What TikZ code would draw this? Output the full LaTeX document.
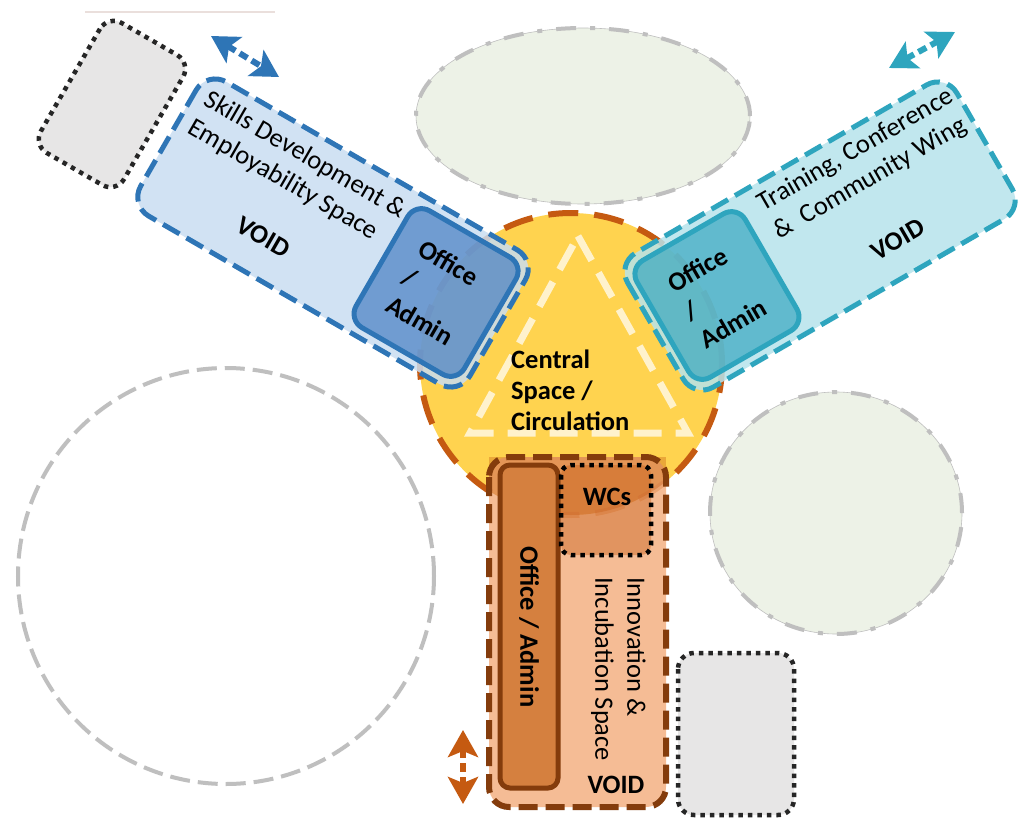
\documentclass[tikz,border=0pt]{standalone}
\usepackage{fontspec}
\setmainfont{Carlito}
\usetikzlibrary{arrows.meta}
\definecolor{bluedk}{HTML}{2E75B6}
\definecolor{bluelt}{HTML}{CADDF1}
\definecolor{bluemd}{HTML}{3C78C0}
\definecolor{tealdk}{HTML}{2EA5BE}
\definecolor{teallt}{HTML}{B7E3EC}
\definecolor{tealmd}{HTML}{2FA3BD}
\definecolor{orgdk}{HTML}{843C0C}
\definecolor{orgmd}{HTML}{C55A11}
\definecolor{orgoff}{HTML}{D5803F}
\definecolor{peach}{HTML}{F4B183}
\definecolor{sun}{HTML}{FFD34F}
\definecolor{cream}{HTML}{FFF2CC}
\definecolor{greyln}{HTML}{BFBFBF}
\definecolor{greenlt}{HTML}{EDF2E7}
\definecolor{greylt}{HTML}{E7E6E6}
\definecolor{dotblk}{HTML}{262626}
\definecolor{faint}{HTML}{EADFDC}
\tikzset{
  lbl/.style={font=\fontsize{26.5}{32}\selectfont, align=left, inner sep=0pt, text=black},
  blbl/.style={lbl, font=\fontsize{26.5}{32}\selectfont\bfseries},
  wingline/.style={line width=5pt, dash pattern=on 19pt off 8pt},
  officebox/.style={line width=5pt, fill opacity=0.65},
  dotbox/.style={draw=dotblk, fill=greylt, line width=4.5pt, dash pattern=on 4.5pt off 5pt, rounded corners=16pt},
  ghost/.style={draw=greyln, fill=greenlt, line width=0.6pt},
  ghostdash/.style={draw=greyln, line width=4pt, dash pattern=on 20pt off 14pt on 5pt off 14pt},
  movearrow/.style={line width=6pt, dash pattern=on 9pt off 5pt,
    {Stealth[length=27pt,width=30pt,inset=6pt]}-{Stealth[length=27pt,width=30pt,inset=6pt]}},
}
\begin{document}
\begin{tikzpicture}[x=1pt,y=-1pt]
\useasboundingbox (0,0) rectangle (1026,822);
\fill[white] (0,0) rectangle (1026,822);
% faint line at top
\draw[faint, line width=1.5pt] (85,12) -- (275,12);
% ghost shapes
\draw[greyln, line width=4pt, dash pattern=on 20pt off 8pt] (226,576) circle [radius=208pt];
\draw[ghost] (583,116) ellipse [x radius=167pt, y radius=88pt];
\draw[ghostdash] (583,116) ellipse [x radius=167pt, y radius=88pt];
\draw[ghost] (836,513) ellipse [x radius=126pt, y radius=121pt];
\draw[ghostdash] (836,513) ellipse [x radius=126pt, y radius=121pt];
% grey dotted boxes
\draw[dotbox] (678,653) rectangle (794,815);
\draw[dotbox, shift={(112,104)}, rotate=-30] (-48,-75) rectangle (48,75);
% central space
\fill[sun] (571,364) circle [radius=151pt];
\draw[orgmd, line width=6pt, dash pattern=on 30pt off 16pt] (571,364) circle [radius=151pt];
\draw[cream, line width=7pt, dash pattern=on 28pt off 14pt] (578,236) -- (688,433) -- (470,433) -- cycle;
\node[blbl, anchor=west, font=\fontsize{26.5}{31}\selectfont\bfseries] (central) at (511,390) {Central\\Space /\\Circulation};
% blue wing
\begin{scope}[shift={(333,233)}, rotate=-30]
  \draw[wingline, draw=bluedk, fill=bluelt, fill opacity=0.85, rounded corners=22pt] (-190,-77.5) rectangle (190,77.5);
  \draw[officebox, draw=bluedk, fill=bluemd, rounded corners=16pt] (56.5,-67.5) rectangle (181.5,67.5);
  \node[lbl, rotate=-30] (skills) at (-63,-37) {Skills Development \&\\Employability Space};
  \node[blbl, rotate=-30] (voidb) at (-58,38) {VOID};
  \node[blbl, rotate=-30] (offb) at (119,0) {Office\\/\\Admin};
\end{scope}
% teal wing
\begin{scope}[shift={(820,236)}, rotate=30]
  \draw[wingline, draw=tealdk, fill=teallt, fill opacity=0.85, rounded corners=22pt] (-190,-77.5) rectangle (190,77.5);
  \draw[officebox, draw=tealdk, fill=tealmd, rounded corners=16pt] (-181.5,-67.5) rectangle (-56.5,67.5);
  \node[lbl, rotate=30] (training) at (74,-40) {Training, Conference\\\&\ \ Community Wing};
  \node[blbl, rotate=30] (voidt) at (66,42) {VOID};
  \node[blbl, rotate=30] (offt) at (-119,0) {Office\\/\\Admin};
\end{scope}
% orange wing
\fill[peach, fill opacity=0.85, rounded corners=20pt] (489,457) rectangle (666,807);
\begin{scope}
  \clip (571,364) circle [radius=151pt];
  \fill[orgmd, fill opacity=0.35] (489,457) rectangle (666,807);
\end{scope}
\draw[line width=6pt, dash pattern=on 19pt off 8pt, draw=orgdk, rounded corners=20pt] (489,457) rectangle (666,807);
\draw[draw=orgdk, line width=5pt, fill=orgoff, rounded corners=10pt] (500,465) rectangle (558,788);
\draw[draw=black, line width=4.5pt, dash pattern=on 4.5pt off 5pt, fill=orgmd, fill opacity=0.4, rounded corners=10pt] (561,465) rectangle (651,555);
\node[blbl, rotate=-90] (offo) at (529,627) {Office / Admin};
\node[lbl, rotate=-90, anchor=north west] (innov) at (646,577) {Innovation \&\\Incubation Space};
\node[blbl] (wcs) at (607,497) {WCs};
\node[blbl] (voido) at (616,785) {VOID};
% movement arrows
\coordinate (ba) at (211,36);
\coordinate (bb) at (279,77);
\coordinate (ta) at (889,68);
\coordinate (tb) at (955,32);
\coordinate (oa) at (463,730);
\coordinate (ob) at (463,804);
\draw[movearrow, bluedk] (ba) -- (bb);
\draw[movearrow, tealdk] (ta) -- (tb);
\draw[movearrow, orgmd] (oa) -- (ob);
\end{tikzpicture}
\end{document}
